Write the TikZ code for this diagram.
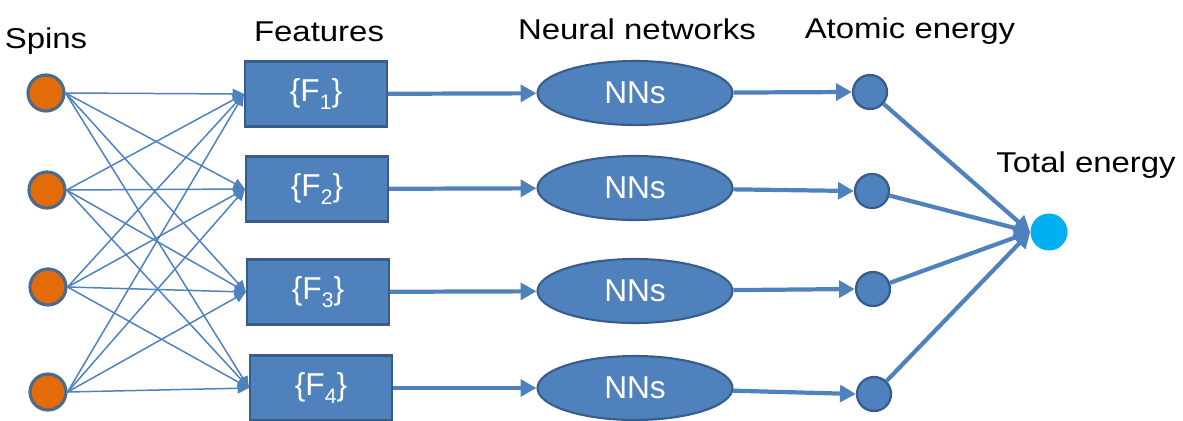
\documentclass[tikz,border=0pt]{standalone}
\usepackage{fontspec}
\setmainfont{Liberation Sans}
\newfontfamily\lblfont[FakeStretch=1.15]{Liberation Sans}
\usepackage{tikz}
\usetikzlibrary{shapes.geometric,arrows.meta}

\definecolor{boxblue}{RGB}{79,129,189}
\definecolor{edgeblue}{RGB}{56,93,138}
\definecolor{spinorange}{RGB}{227,108,9}
\definecolor{spinedge}{RGB}{74,106,142}
\definecolor{totcyan}{RGB}{0,176,240}

\newcommand{\fsub}[1]{\raisebox{-0.5ex}{\fontsize{12}{12}\selectfont #1}}

\tikzset{
	spin/.style={circle, draw=spinedge, line width=1.8pt, fill=spinorange, minimum size=0.72cm, inner sep=0pt},
	feat/.style={rectangle, draw=edgeblue, line width=1.2pt, fill=boxblue, text=white, minimum width=2.84cm, minimum height=1.3cm, inner sep=0pt, font=\fontsize{18}{18}\selectfont},
	nn/.style={ellipse, draw=edgeblue, line width=1.2pt, fill=boxblue, text=white, minimum width=3.9cm, minimum height=1.28cm, inner sep=0pt, font=\fontsize{18}{18}\selectfont},
	atom/.style={circle, draw=edgeblue, line width=1.3pt, fill=boxblue, minimum size=0.68cm, inner sep=0pt},
	total/.style={circle, fill=totcyan, minimum size=0.74cm, inner sep=0pt},
	lbl/.style={anchor=base, inner sep=0pt, font=\lblfont\fontsize{16.3}{16.3}\selectfont},
	link/.style={draw=boxblue, line width=0.85pt, -{Triangle[length=6.5pt,width=6pt]}},
	flow/.style={draw=boxblue, line width=2.4pt, -{Triangle[length=9pt,width=9.5pt]}}
}

\begin{document}
\begin{tikzpicture}[x=0.02cm, y=-0.02cm]
	\useasboundingbox (0,0) rectangle (1183,420);
	\node[lbl] (spinslbl) at (46,48) {Spins};
	\node[lbl] (featlbl) at (319,41) {Features};
	\node[lbl] (nnlbl) at (637,39) {Neural networks};
	\node[lbl] (atomlbl) at (910,38) {Atomic energy};
	\node[lbl] (totlbl) at (1086,172) {Total energy};
	\node[spin] (s1) at (46,93) {};
	\node[spin] (s2) at (47,190) {};
	\node[spin] (s3) at (48,287) {};
	\node[spin] (s4) at (48,392) {};
		\node[feat] (f1) at (316,94) {\{F\fsub{1}\}};
		\node[feat] (f2) at (317,189) {\{F\fsub{2}\}};
		\node[feat] (f3) at (318,292) {\{F\fsub{3}\}};
		\node[feat] (f4) at (321,388) {\{F\fsub{4}\}};
			\node[nn] (n1) at (635,93) {NNs};
			\node[nn] (n2) at (635,188) {NNs};
			\node[nn] (n3) at (635,291) {NNs};
			\node[nn] (n4) at (635,388) {NNs};
				\node[atom] (a1) at (870,92) {};
				\node[atom] (a2) at (872,191) {};
				\node[atom] (a3) at (873,289) {};
				\node[atom] (a4) at (874,394) {};
					\node[total] (E) at (1049,232) {};
	\draw[link] (s1.east) to (f1.west);
	\draw[link] (s1.east) to (f2.west);
	\draw[link] (s1.east) to (f3.west);
	\draw[link] (s1.east) to (f4.west);
	\draw[link] (s2.east) to (f1.west);
	\draw[link] (s2.east) to (f2.west);
	\draw[link] (s2.east) to (f3.west);
	\draw[link] (s2.east) to (f4.west);
	\draw[link] (s3.east) to (f1.west);
	\draw[link] (s3.east) to (f2.west);
	\draw[link] (s3.east) to (f3.west);
	\draw[link] (s3.east) to (f4.west);
	\draw[link] (s4.east) to (f1.west);
	\draw[link] (s4.east) to (f2.west);
	\draw[link] (s4.east) to (f3.west);
	\draw[link] (s4.east) to (f4.west);
	\draw[flow] (f1) to (n1);
	\draw[flow] (f2) to (n2);
	\draw[flow] (f3) to (n3);
	\draw[flow] (f4) to (n4);
	\draw[flow] (n1) to (a1.west);
	\draw[flow] (n2) to (a2.west);
	\draw[flow] (n3) to (a3.west);
	\draw[flow] (n4) to (a4.west);
	\draw[flow] (a1) to (E.west);
	\draw[flow] (a2) to (E.west);
	\draw[flow] (a3) to (E.west);
	\draw[flow] (a4) to (E.west);
\end{tikzpicture}
\end{document}
